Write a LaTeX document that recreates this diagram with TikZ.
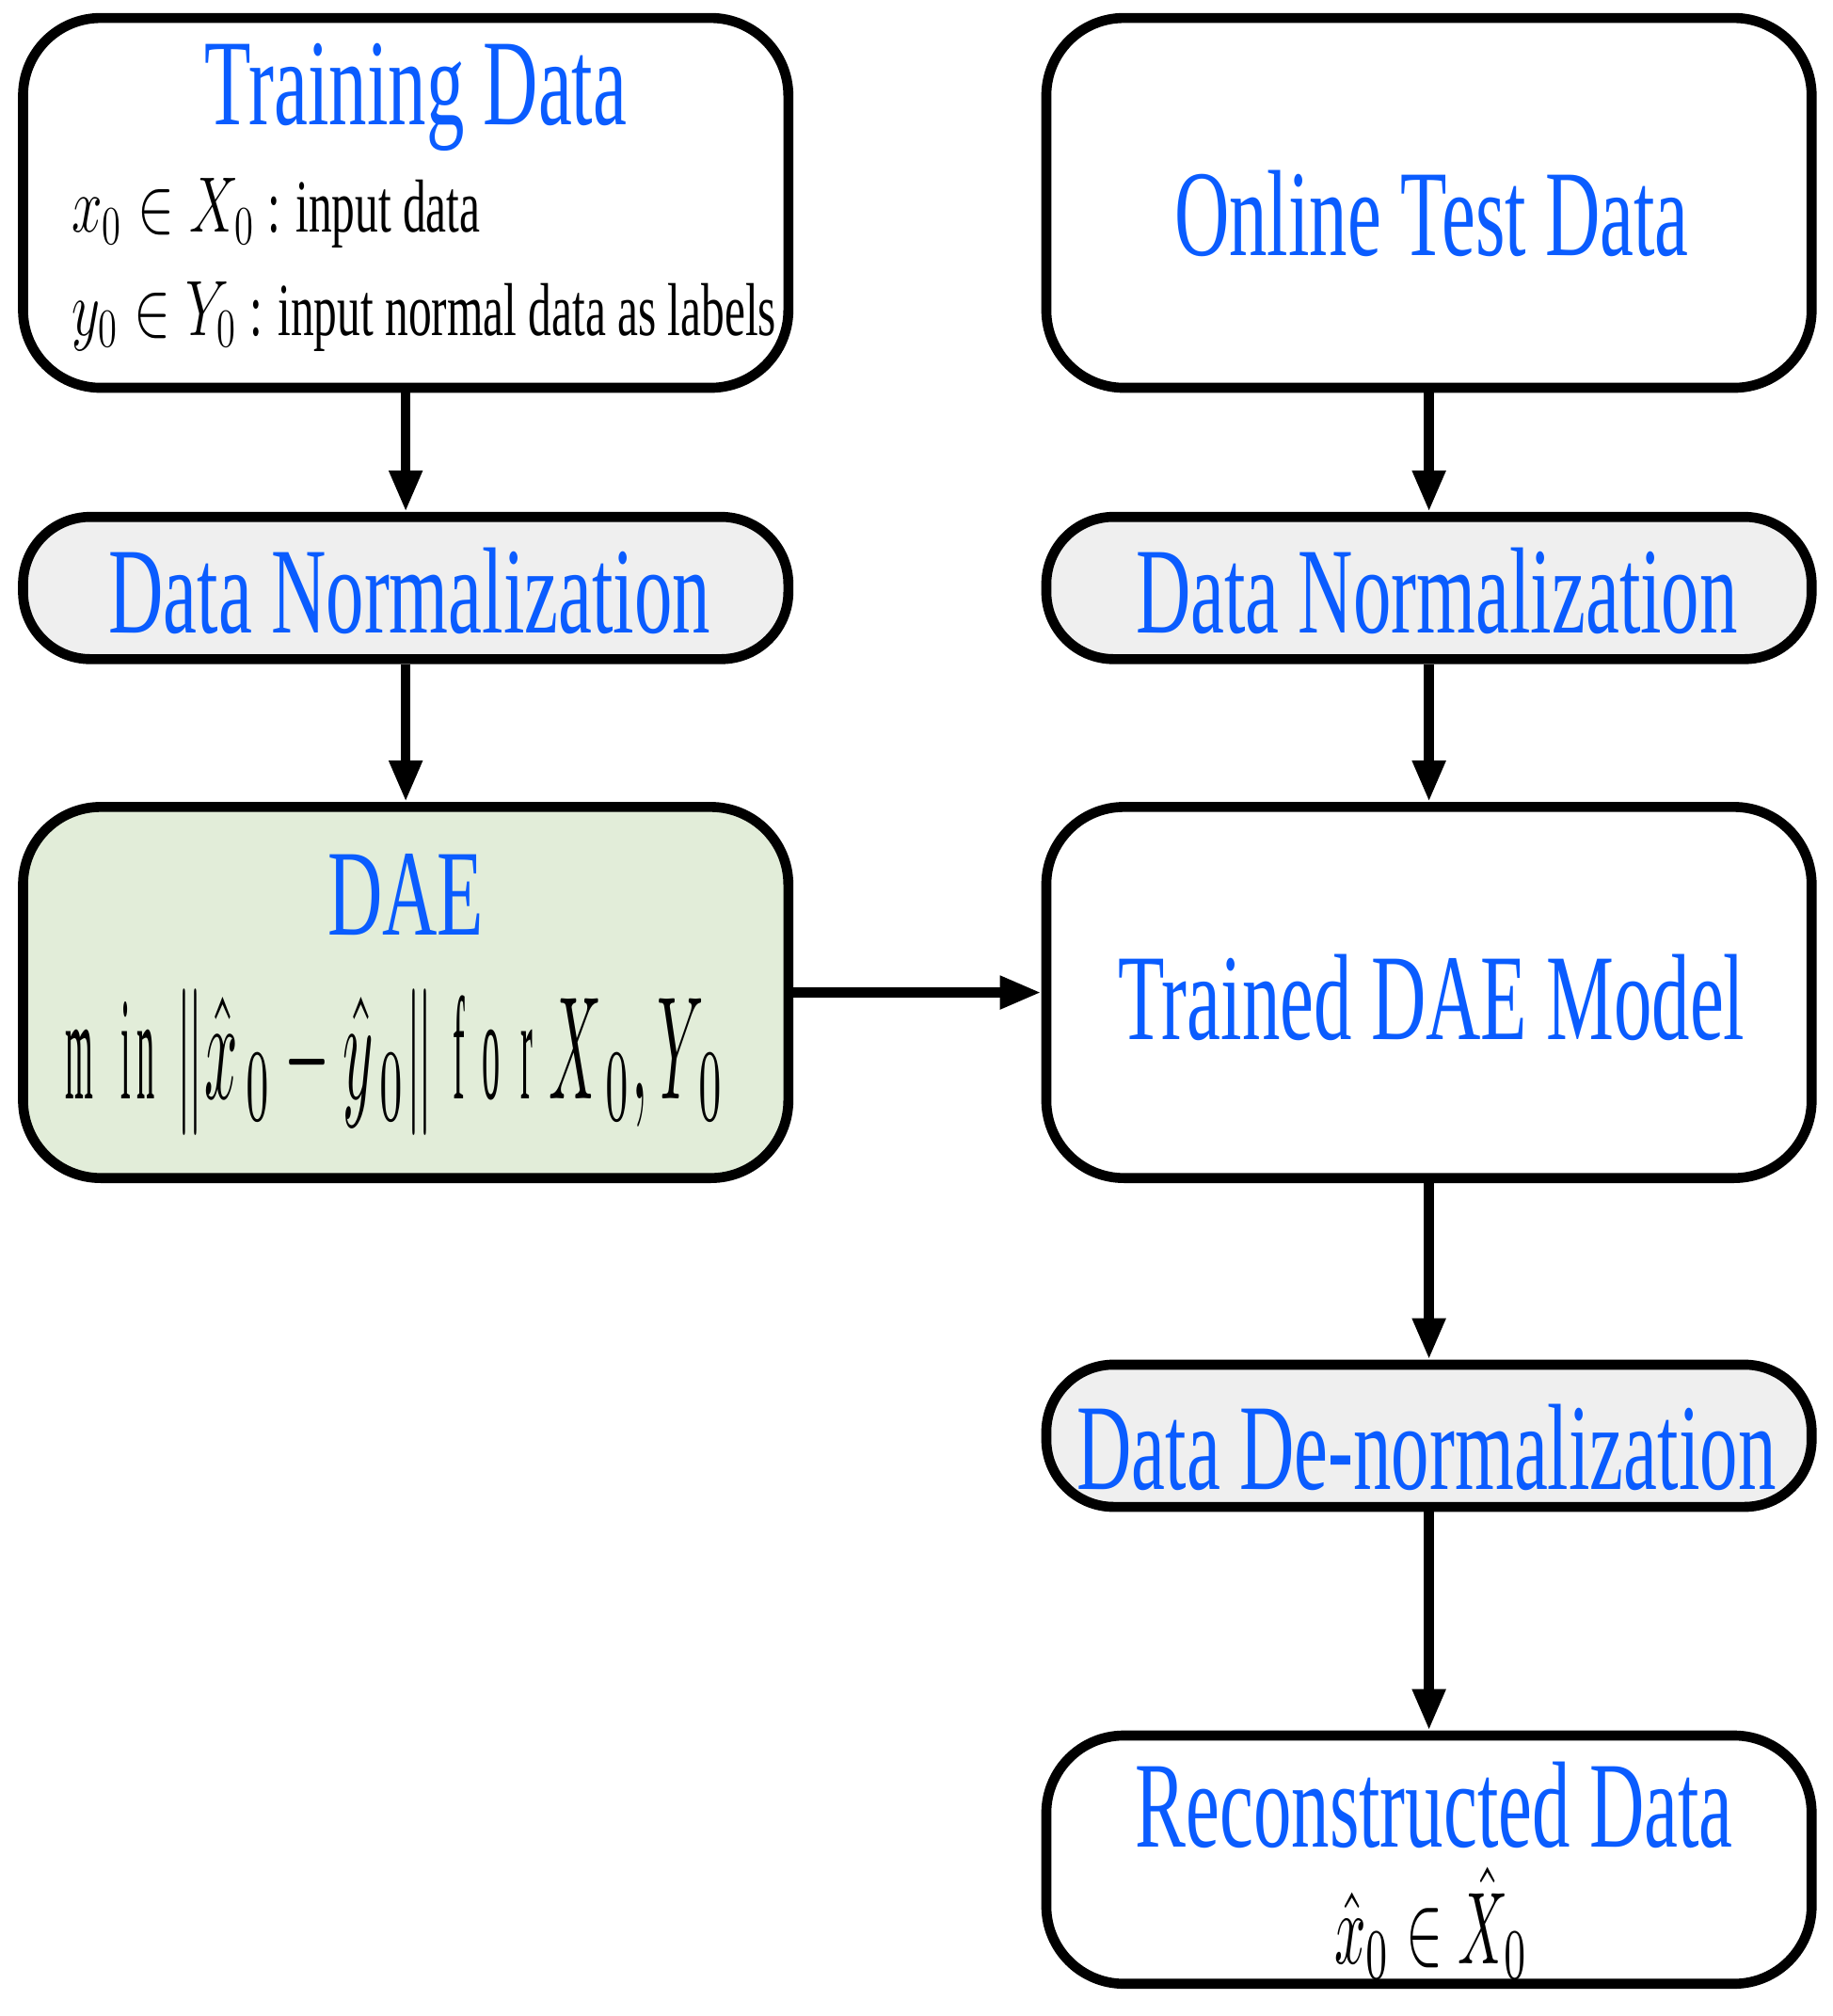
\documentclass[tikz,border=0pt]{standalone}
\usepackage{fontspec}
\usepackage{graphicx}
\setmainfont{Liberation Serif}[FakeStretch=0.62]
\usetikzlibrary{arrows.meta}
\definecolor{tblue}{HTML}{0A5CFF}
\definecolor{dgreen}{HTML}{E2EDD9}
\definecolor{ngray}{HTML}{EFEFEF}
\newcommand{\cmath}[1]{\scalebox{0.7}[1]{$#1$}}
\begin{document}
\begin{tikzpicture}[x=0.01cm,y=-0.01cm,
 box/.style={draw=black,line width=2.2pt,rounded corners=0.6cm,minimum width=5.92cm,inner sep=0pt},
 pill/.style={draw=black,line width=2.2pt,rounded corners=0.52cm,minimum width=5.92cm,minimum height=1.1cm,fill=ngray,inner sep=0pt},
 title/.style={text=tblue,font=\fontsize{27}{30}\selectfont,inner sep=0pt},
 sub/.style={font=\fontsize{16.5}{20}\selectfont,inner sep=0pt},
 arr/.style={line width=2.2pt,-{Triangle[length=0.32cm,width=0.24cm]}}]
\useasboundingbox (0,0) rectangle (1418,1560);
% left column
\node[box,minimum height=2.86cm] (train) at (314,157) {};
\node[title] (traint) at (322,75) {Training Data};
\node[sub,anchor=west] (l1) at (55,165) {\cmath{x_0\in X_0}\,: input data};
\node[sub,anchor=west] (l2) at (55,245) {\cmath{y_0\in Y_0}\,: input normal data as labels};
\node[pill] (normL) at (314,455) {};
\node[title] at (317,457) {Data Normalization};
\node[box,minimum height=2.87cm,fill=dgreen] (dae) at (314,768) {};
\node[title] (daet) at (314,692) {DAE};
\node[inner sep=0pt] (form) at (306,822) {\resizebox{5.1cm}{0.85cm}{$\mathrm{m\,in}\left\|\hat{x}_{\,0}-\hat{y}_{\,0}\right\|\ \mathrm{f\,o\,r}\ X_{\,0},Y_{\,0}$}};
% right column
\node[box,minimum height=2.86cm] (online) at (1106,157) {};
\node[title] at (1108,165) {Online Test Data};
\node[pill] (normR) at (1106,455) {};
\node[title] at (1112,457) {Data Normalization};
\node[box,minimum height=2.87cm] (trained) at (1106,768) {};
\node[title] at (1108,772) {Trained DAE Model};
\node[pill] (denorm) at (1106,1111) {};
\node[title] at (1104,1120) {Data De-normalization};
\node[box,minimum height=1.92cm] (rec) at (1106,1439) {};
\node[title] at (1110,1397) {Reconstructed Data};
\node[inner sep=0pt] at (1108,1488) {\resizebox{1.5cm}{0.75cm}{$\hat{x}_0\in\hat{X}_0$}};
% arrows
\draw[arr] (train.south) -- (normL.north);
\draw[arr] (normL.south) -- (dae.north);
\draw[arr] (dae.east) -- (trained.west);
\draw[arr] (online.south) -- (normR.north);
\draw[arr] (normR.south) -- (trained.north);
\draw[arr] (trained.south) -- (denorm.north);
\draw[arr] (denorm.south) -- (rec.north);
\end{tikzpicture}
\end{document}
